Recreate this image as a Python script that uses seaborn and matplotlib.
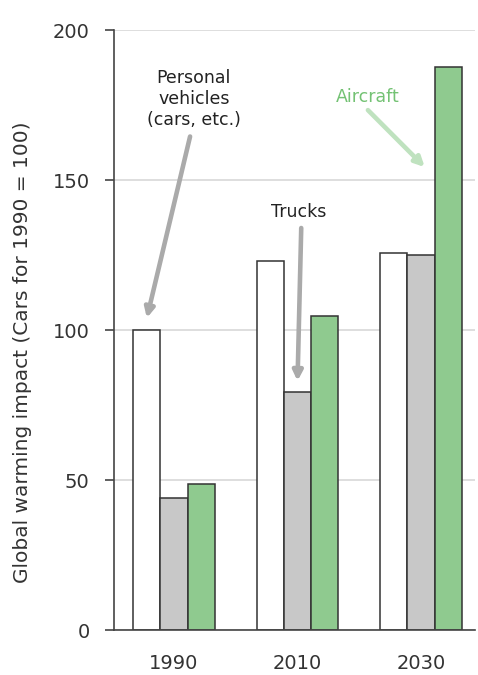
import pandas as pd
import matplotlib
matplotlib.use("Agg")
import matplotlib.pyplot as plt
import seaborn as sns

# values (index: cars in 1990 = 100)
years = ["1990", "2010", "2030"]
modes = ["Personal vehicles", "Trucks", "Aircraft"]
personal = [100, 123, 125.7]
trucks = [44.1, 79.4, 125.1]
aircraft = [48.8, 104.6, 187.8]

mode_colors = ["#ffffff", "#c8c8c8", "#8fca8f"]
y_ticks = [0, 50, 100, 150, 200]


def build_frame():
    rows = []
    for series, vals in zip(modes, [personal, trucks, aircraft]):
        for yr, v in zip(years, vals):
            rows.append({"year": yr, "mode": series, "impact": v})
    return pd.DataFrame(rows)


def main():
    sns.set_theme(style="white")
    plt.rcParams["font.family"] = ["DejaVu Sans"]

    df = build_frame()
    fig = plt.figure(figsize=(4.78, 6.75), dpi=100)
    ax = fig.add_axes([114 / 478, 45 / 675, 361 / 478, 600 / 675])

    sns.barplot(data=df, x="year", y="impact", hue="mode", order=years,
                hue_order=modes, palette=mode_colors, width=0.66,
                edgecolor="#333333", linewidth=1.1, saturation=1,
                legend=False, ax=ax)

    ax.set_ylim(0, 200)
    ax.set_xlim(-0.486, 2.437)
    ax.set_yticks(y_ticks)
    ax.yaxis.grid(True, color="#d8d8d8", linewidth=1.2)
    ax.set_axisbelow(True)
    for side in ["top", "right"]:
        ax.spines[side].set_visible(False)
    for side in ["left", "bottom"]:
        ax.spines[side].set_color("#444444")
        ax.spines[side].set_linewidth(1.2)
    ax.tick_params(axis="y", left=True, length=6.5, width=1.2, color="#444444",
                   pad=11, labelsize=14, labelcolor="#333333")
    ax.tick_params(axis="x", bottom=False, pad=11, labelsize=14,
                   labelcolor="#333333")
    ax.set_xlabel("")
    ax.set_ylabel("Global warming impact (Cars for 1990 = 100)", fontsize=14.5,
                  color="#333333")
    ax.yaxis.set_label_coords(-0.227, 0.463)

    # callout labels with arrows
    ax.text(0.16, 177, "Personal\nvehicles\n(cars, etc.)", ha="center",
            va="center", fontsize=12.5, color="#222222", linespacing=1.2)
    ax.annotate("", xy=(-0.22, 104), xytext=(0.13, 164.5),
                arrowprops=dict(arrowstyle="-|>", lw=3.3, color="#aaaaaa",
                                mutation_scale=14, shrinkA=0, shrinkB=0))
    ax.text(1.01, 139.3, "Trucks", ha="center", va="center", fontsize=12.5,
            color="#222222")
    ax.annotate("", xy=(1.0, 83), xytext=(1.03, 134),
                arrowprops=dict(arrowstyle="-|>", lw=3.3, color="#aaaaaa",
                                mutation_scale=14, shrinkA=0, shrinkB=0))
    ax.text(1.57, 177.7, "Aircraft", ha="center", va="center", fontsize=12.5,
            color="#74c274")
    ax.annotate("", xy=(2.03, 154.3), xytext=(1.57, 173.3),
                arrowprops=dict(arrowstyle="-|>", lw=3.3, color="#bfe2bf",
                                mutation_scale=14, shrinkA=0, shrinkB=0))

    fig.savefig("out.png", dpi=100)


if __name__ == "__main__":
    main()
